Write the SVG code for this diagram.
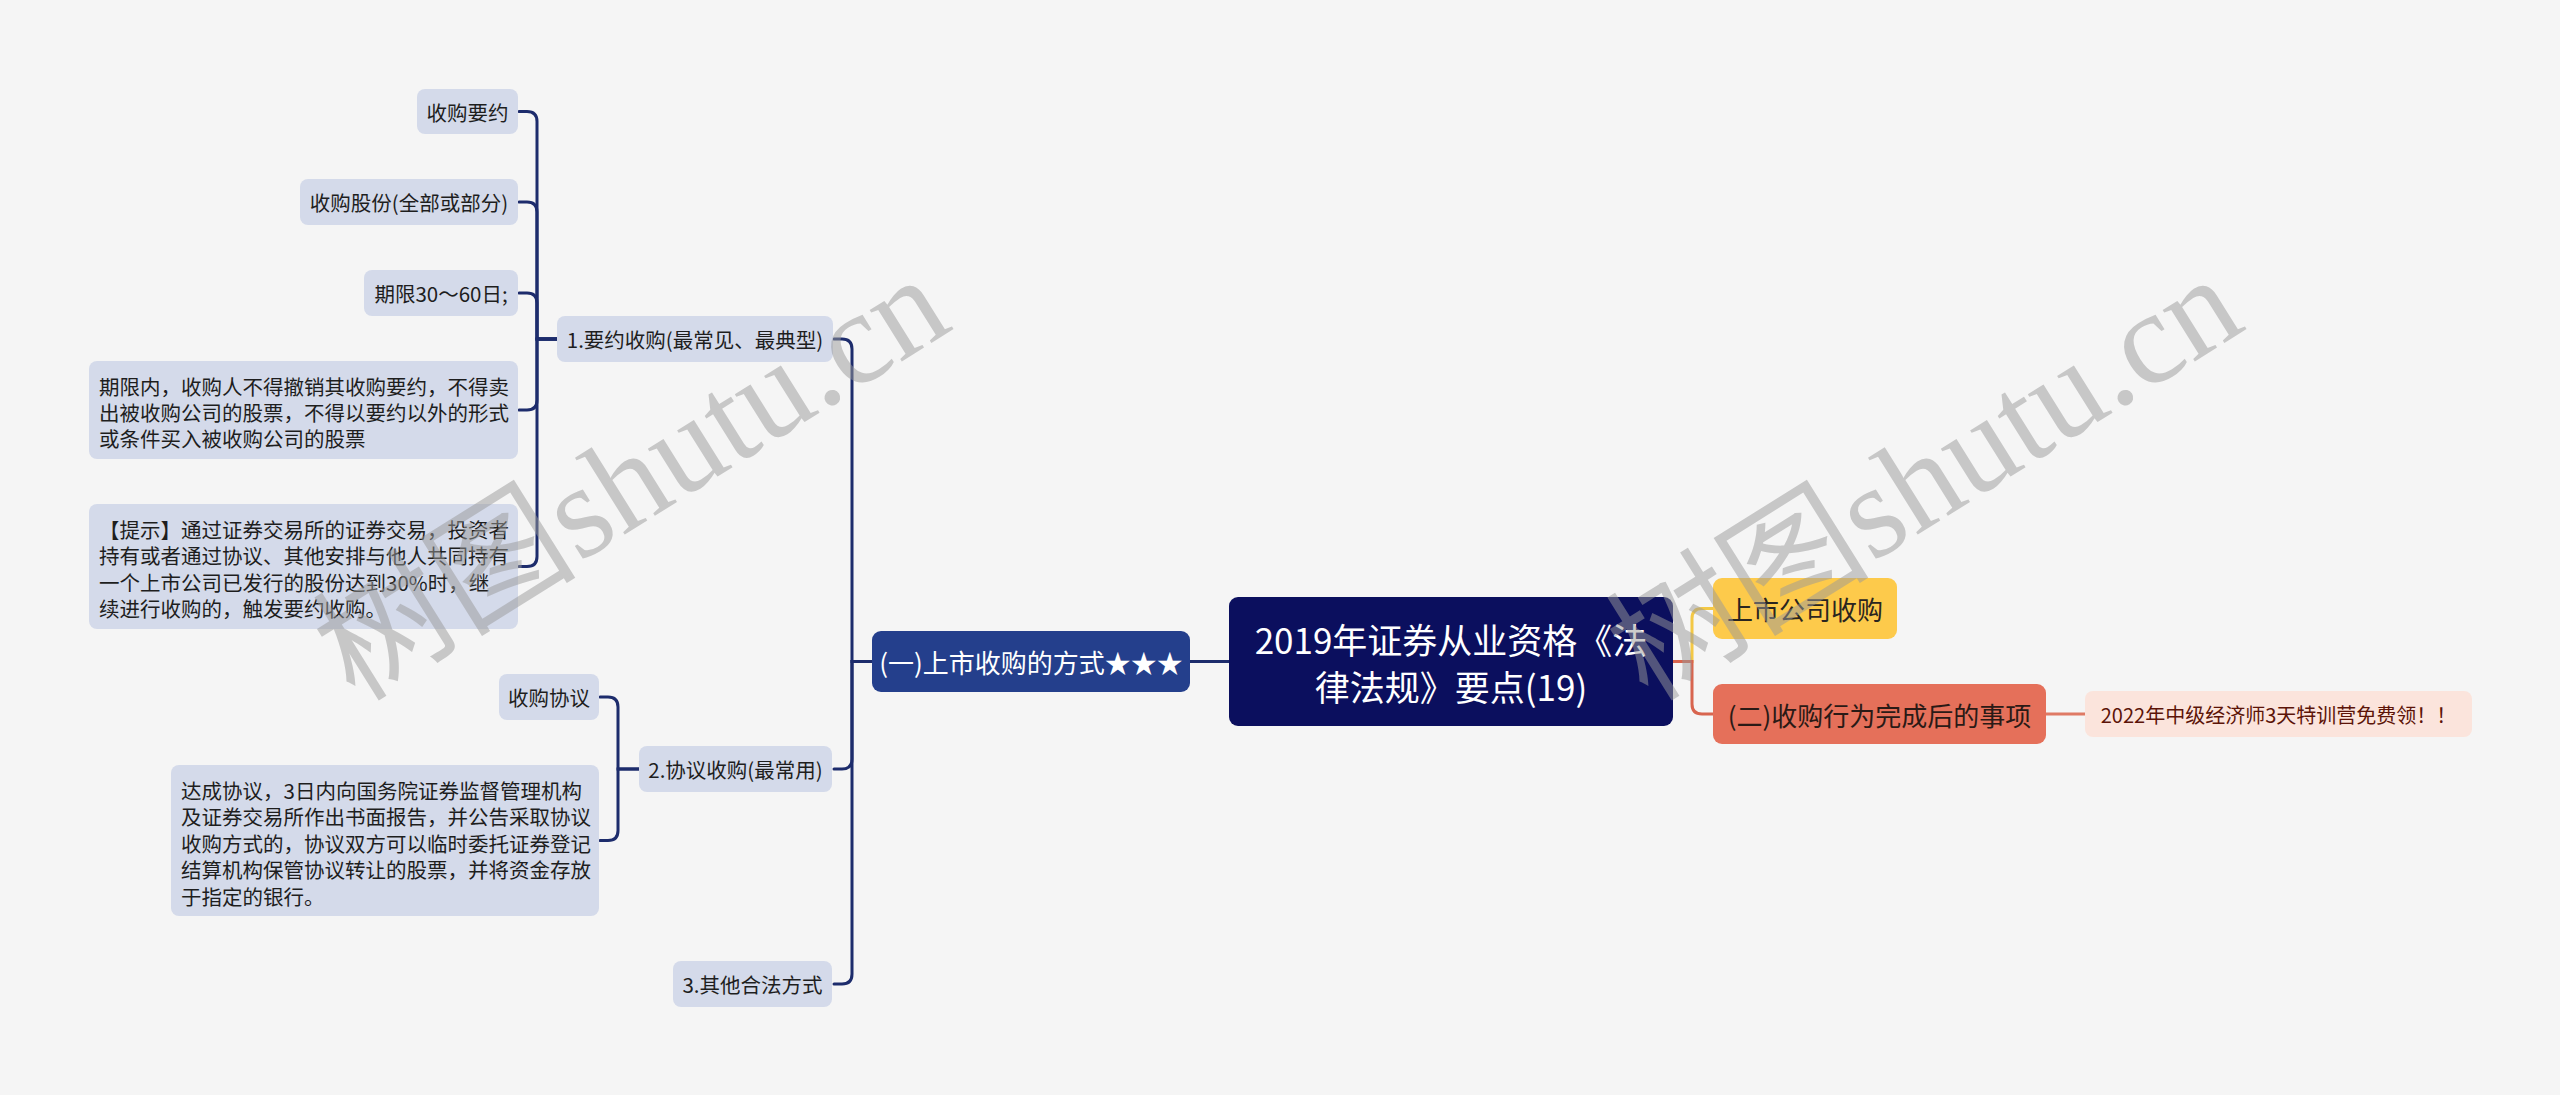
<svg xmlns="http://www.w3.org/2000/svg" width="2560" height="1095" viewBox="0 0 2560 1095">
<style>
text{font-family:"Noto Sans CJK SC","Noto Sans",sans-serif;}
.n3 rect{fill:#d4daea;}
.n3 text{fill:#1e1e1e;font-size:20.5px;dominant-baseline:central;}
.c{fill:none;stroke:#1d2c6c;stroke-width:3;stroke-linecap:round;}
.wm{font-family:"Liberation Serif","Noto Sans CJK SC",serif;font-size:132px;fill:#9a9a9a;opacity:0.5;}
.mid{text-anchor:middle;}
</style>
<rect x="0" y="0" width="2560" height="1095" fill="#f5f5f5"/>

<g id="connectors">
  <path class="c" d="M557,339 H537 V121.5 Q537,111.5 527,111.5 H519"/>
  <path class="c" d="M557,339 H537 V212 Q537,202 527,202 H519"/>
  <path class="c" d="M557,339 H537 V303 Q537,293 527,293 H519"/>
  <path class="c" d="M557,339 H537 V400 Q537,410 527,410 H519"/>
  <path class="c" d="M557,339 H537 V556.5 Q537,566.5 527,566.5 H519"/>
  <path class="c" d="M639,769 H618 V707 Q618,697 608,697 H600"/>
  <path class="c" d="M639,769 H618 V830.5 Q618,840.5 608,840.5 H600"/>
  <path class="c" d="M872,661.5 H852 V349 Q852,339 842,339 H834"/>
  <path class="c" d="M872,661.5 H852 V759 Q852,769 842,769 H834"/>
  <path class="c" d="M872,661.5 H852 V974 Q852,984 842,984 H834"/>
  <path class="c" d="M1190,661.5 H1229"/>
  <path d="M1673,661.5 H1692 V618.5 Q1692,608.5 1702,608.5 H1713" fill="none" stroke="#f3c845" stroke-width="3"/>
  <path d="M1673,661.5 H1692 V704 Q1692,714 1702,714 H1713" fill="none" stroke="#d8654f" stroke-width="3"/>
  <path d="M2046,714 H2085" fill="none" stroke="#df7a65" stroke-width="3"/>
</g>

<g id="n-shougouyaoyue" class="n3">
  <rect x="417" y="89" width="101" height="45" rx="8"/>
  <text x="467.5" y="111.5" class="mid">收购要约</text>
</g>
<g id="n-shougougufen" class="n3">
  <rect x="300" y="179" width="218" height="46" rx="8"/>
  <text x="409" y="202" class="mid">收购股份(全部或部分)</text>
</g>
<g id="n-qixian" class="n3">
  <rect x="364" y="270" width="154" height="46" rx="8"/>
  <text x="441" y="293" class="mid">期限30～60日;</text>
</g>
<g id="n-qixiannei" class="n3">
  <rect x="89" y="361" width="429" height="98" rx="8"/>
  <text x="99" y="386">期限内，收购人不得撤销其收购要约，不得卖</text>
  <text x="99" y="412">出被收购公司的股票，不得以要约以外的形式</text>
  <text x="99" y="438">或条件买入被收购公司的股票</text>
</g>
<g id="n-tishi" class="n3">
  <rect x="89" y="504" width="429" height="125" rx="8"/>
  <text x="99" y="528.5">【提示】通过证券交易所的证券交易，投资者</text>
  <text x="99" y="555">持有或者通过协议、其他安排与他人共同持有</text>
  <text x="99" y="581.5">一个上市公司已发行的股份达到30%时，继</text>
  <text x="99" y="608">续进行收购的，触发要约收购。</text>
</g>
<g id="n-yaoyue" class="n3">
  <rect x="557" y="316" width="276" height="46" rx="8"/>
  <text x="695" y="339" class="mid">1.要约收购(最常见、最典型)</text>
</g>
<g id="n-shougouxieyi" class="n3">
  <rect x="499" y="674" width="100" height="46" rx="8"/>
  <text x="549" y="697" class="mid">收购协议</text>
</g>
<g id="n-dacheng" class="n3">
  <rect x="171" y="765" width="428" height="151" rx="8"/>
  <text x="181" y="789.5">达成协议，3日内向国务院证券监督管理机构</text>
  <text x="181" y="816">及证券交易所作出书面报告，并公告采取协议</text>
  <text x="181" y="842.5">收购方式的，协议双方可以临时委托证券登记</text>
  <text x="181" y="869">结算机构保管协议转让的股票，并将资金存放</text>
  <text x="181" y="895.5">于指定的银行。</text>
</g>
<g id="n-xieyi" class="n3">
  <rect x="639" y="746" width="193" height="46" rx="8"/>
  <text x="735.5" y="769" class="mid">2.协议收购(最常用)</text>
</g>
<g id="n-qita" class="n3">
  <rect x="673" y="961" width="159" height="46" rx="8"/>
  <text x="752.5" y="984" class="mid">3.其他合法方式</text>
</g>

<g id="n-fangshi">
  <rect x="872" y="631" width="318" height="61" rx="9" fill="#243f8c"/>
  <text x="1031" y="661.5" class="mid" fill="#ffffff" font-size="26" dominant-baseline="central">(一)上市收购的方式★★★</text>
</g>

<g id="n-root">
  <rect x="1229" y="597" width="444" height="129" rx="9" fill="#0b0f5e"/>
  <text x="1451" y="638" class="mid" fill="#ffffff" font-size="35" dominant-baseline="central">2019年证券从业资格《法</text>
  <text x="1451" y="685" class="mid" fill="#ffffff" font-size="35" dominant-baseline="central">律法规》要点(19)</text>
</g>

<g id="n-shangshi">
  <rect x="1713" y="578" width="184" height="61" rx="9" fill="#fdca4b"/>
  <text x="1805" y="608.5" class="mid" fill="#2a2520" font-size="26" dominant-baseline="central">上市公司收购</text>
</g>

<g id="n-wancheng">
  <rect x="1713" y="684" width="333" height="60" rx="9" fill="#e5705a"/>
  <text x="1879.5" y="714" class="mid" fill="#2a1a16" font-size="26" dominant-baseline="central">(二)收购行为完成后的事项</text>
</g>

<g id="n-2022">
  <rect x="2085" y="691" width="387" height="46" rx="8" fill="#fbe4dc"/>
  <text x="2278.5" y="714" class="mid" fill="#5c1408" font-size="20" dominant-baseline="central">2022年中级经济师3天特训营免费领！！</text>
</g>

<g id="watermarks">
  <text class="wm" x="355" y="703" transform="rotate(-32 355 703)">树图shutu.cn</text>
  <text class="wm" x="1648" y="703" transform="rotate(-32 1648 703)">树图shutu.cn</text>
</g>
</svg>
